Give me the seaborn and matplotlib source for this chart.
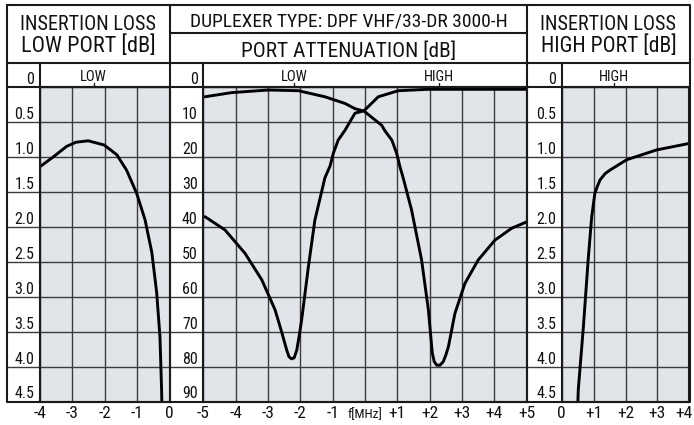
import matplotlib
matplotlib.use("Agg")
import matplotlib.pyplot as plt
import matplotlib.transforms as mtransforms
from matplotlib import font_manager
from matplotlib.lines import Line2D
import seaborn as sns

# ---- insertion loss, low port (left panel) ----
low_il_mhz = [-4.0, -3.59, -3.18, -2.89, -2.51, -2.02, -1.63, -1.33, -1.02,
              -0.76, -0.55, -0.40, -0.30, -0.25, -0.24]
low_il_db = [1.14, 1.00, 0.85, 0.79, 0.77, 0.83, 0.97, 1.19, 1.52,
             1.90, 2.37, 2.95, 3.58, 4.33, 4.60]

# ---- insertion loss, high port (right panel) ----
high_il_mhz = [0.50, 0.52, 0.68, 0.83, 0.94, 1.04, 1.12, 1.20, 1.36, 1.51,
               2.04, 2.98, 3.97]
high_il_db = [4.60, 4.33, 3.43, 2.47, 1.86, 1.52, 1.42, 1.33, 1.24, 1.19,
              1.04, 0.90, 0.81]

# ---- port attenuation (middle panel) ----
att_low_mhz = [-4.95, -4.12, -2.99, -2.06, -1.24, -0.62, -0.31, -0.03, 0.52,
               0.62, 0.83, 0.98, 1.08, 1.18, 1.44, 1.75, 1.96, 2.08, 2.14,
               2.22, 2.32, 2.42, 2.50, 2.58, 2.78, 3.09, 3.50, 4.02, 4.54, 5.0]
att_low_db = [2.8, 1.6, 0.86, 1.06, 2.8, 4.7, 6.2, 6.9, 11.0,
              12.6, 15.2, 19.0, 22.8, 26.0, 35.2, 49.5, 63.8, 76.1, 78.6,
              79.6, 79.6, 78.6, 76.7, 74.3, 64.8, 56.2, 49.5, 43.8, 40.4, 38.6]

att_high_mhz = [-4.95, -4.33, -3.71, -3.19, -2.78, -2.58, -2.42, -2.35, -2.27,
                -2.19, -2.11, -2.04, -1.96, -1.75, -1.55, -1.24, -1.08, -0.98,
                -0.83, -0.62, -0.31, -0.03, 0.41, 1.03, 1.96, 5.0]
att_high_db = [37.1, 40.9, 47.6, 55.2, 63.8, 70.0, 75.3, 77.2, 77.8,
               77.5, 75.3, 71.5, 66.7, 51.4, 38.1, 26.0, 22.6, 19.0,
               15.2, 12.4, 7.5, 6.8, 2.8, 1.06, 0.66, 0.66]

il_ticks = [0, 0.5, 1.0, 1.5, 2.0, 2.5, 3.0, 3.5, 4.0, 4.5]
il_labels = ["0", "0.5", "1.0", "1.5", "2.0", "2.5", "3.0", "3.5", "4.0", "4.5"]
att_ticks = [0, 10, 20, 30, 40, 50, 60, 70, 80, 90]
att_labels = ["0", "10", "20", "30", "40", "50", "60", "70", "80", "90"]

left_x = [-4, -3, -2, -1, 0]
left_xlabels = ["-4", "-3", "-2", "-1", "0"]
mid_x = [-5, -4, -3, -2, -1, 0, 1, 2, 3, 4, 5]
mid_xlabels = ["-5", "-4", "-3", "-2", "-1", "f[MHz]", "+1", "+2", "+3", "+4", "+5"]
right_x = [0, 1, 2, 3, 4]
right_xlabels = ["0", "+1", "+2", "+3", "+4"]

sns.set_theme(style="white")
nomes = {f.name for f in font_manager.fontManager.ttflist}
fonte = "Liberation Sans"
for cand in ["Liberation Sans Narrow", "Roboto Condensed", "Open Sans Condensed",
             "Noto Sans Condensed", "DejaVu Sans Condensed"]:
    if cand in nomes:
        fonte = cand
        break
plt.rcParams["font.family"] = [fonte, "DejaVu Sans"]

W, H = 694, 425
TOPO, BASE = 87, 401.5
fundo = "#e1e5ea"
grade = "#3c3c3c"

fig = plt.figure(figsize=(W / 100, H / 100), dpi=100)


def caixa(x0, x1):
    return [x0 / W, (H - BASE) / H, (x1 - x0) / W, (BASE - TOPO) / H]


ax_l = fig.add_axes(caixa(40, 169.7))
ax_m = fig.add_axes(caixa(203.3, 526.7))
ax_r = fig.add_axes(caixa(561.7, 689.3))

kw = dict(color="black", lw=2.1, estimator=None, sort=False)
sns.lineplot(x=low_il_mhz, y=low_il_db, ax=ax_l, **kw)
sns.lineplot(x=att_low_mhz, y=att_low_db, ax=ax_m, **kw)
sns.lineplot(x=att_high_mhz, y=att_high_db, ax=ax_m, **kw)
sns.lineplot(x=high_il_mhz, y=high_il_db, ax=ax_r, **kw)


def painel(ax, xlim, xt, xl, yt, yl, col_px, marca, marca_x):
    ax.set_facecolor(fundo)
    ax.set_xlim(xlim)
    ax.set_ylim(yt[-1], yt[0])
    ax.set_xlabel("")
    ax.set_ylabel("")
    ax.set_xticks(xt, xl, fontsize=12.5, color="#111111")
    ax.set_yticks(yt, yl, fontsize=11.5, color="#111111")
    ax.tick_params(axis="x", length=0, pad=3.5)
    ax.tick_params(axis="y", length=0, pad=4)
    ax.grid(True, color=grade, lw=1.0)
    ax.set_axisbelow(True)
    for s in ax.spines.values():
        s.set_color("#1a1a1a")
        s.set_linewidth(1.5)
    desloc = mtransforms.ScaledTranslation(0, 0.03, fig.dpi_scale_trans)
    for lab in ax.get_yticklabels():
        lab.set_va("baseline")
        lab.set_transform(lab.get_transform() + desloc)
    largura = ax.get_position().width * W
    for v in yt[1:-1]:
        ax.axhline(v, xmin=-col_px / largura, xmax=0, color=grade, lw=1.0,
                   clip_on=False)
    for txt, xm in zip(marca, marca_x):
        ax.annotate(txt, xy=(xm, yt[0]), xytext=(0, 10), textcoords="offset pixels",
                    ha="center", va="center", fontsize=10.5, color="#111111",
                    annotation_clip=False)
        ax.plot([xm, xm], [1.0, 1.012], transform=ax.get_xaxis_transform(),
                color="#222222", lw=1.0, clip_on=False)


painel(ax_l, (-4, 0), left_x, left_xlabels, il_ticks, il_labels, 33, ["LOW"], [-2.35])
painel(ax_m, (-5, 5), mid_x, mid_xlabels, att_ticks, att_labels, 33.3,
       ["LOW", "HIGH"], [-2.2, 2.3])
painel(ax_r, (0, 4), right_x, right_xlabels, il_ticks, il_labels, 35, ["HIGH"], [1.65])

for lab in ax_m.get_xticklabels():
    if lab.get_text() == "f[MHz]":
        lab.set_fontsize(9.5)
        lab.set_transform(lab.get_transform() +
                          mtransforms.ScaledTranslation(0, -0.02, fig.dpi_scale_trans))
ultimo = ax_r.get_xticklabels()[-1]
ultimo.set_ha("right")
ultimo.set_transform(ultimo.get_transform() +
                     mtransforms.ScaledTranslation(0.03, 0, fig.dpi_scale_trans))


def linha(xs, ys, lw=1.5):
    fig.add_artist(Line2D([x / W for x in xs], [1 - y / H for y in ys],
                          color="#1a1a1a", lw=lw))


linha([7, 690, 690, 7, 7], [5, 5, BASE, BASE, 5])
linha([170, 170], [5, BASE])
linha([526.7, 526.7], [5, BASE])
linha([7, 690], [63, 63])
linha([170, 526.7], [33.3, 33.3])
linha([7, 690], [TOPO, TOPO])
for xc in (40, 203.3, 561.7):
    linha([xc, xc], [63, TOPO])

render = fig.canvas.get_renderer()


def texto(x, y, s, size, alvo):
    # scale the title so its width matches the reference box
    t = fig.text(x / W, 1 - y / H, s, ha="center", va="center", fontsize=size,
                 color="#111111")
    w = t.get_window_extent(render).width
    t.set_fontsize(min(size * alvo / w, size * 1.12))


texto(88.5, 25, "INSERTION LOSS", 14.5, 136)
texto(88.5, 46.5, "LOW PORT [dB]", 14.5, 134)
texto(348.5, 21.5, "DUPLEXER TYPE: DPF VHF/33-DR 3000-H", 12.5, 320)
texto(348.5, 51, "PORT ATTENUATION [dB]", 14.5, 215)
texto(608.5, 25, "INSERTION LOSS", 14.5, 136)
texto(608.5, 46.5, "HIGH PORT [dB]", 14.5, 136)

fig.savefig("out.png", dpi=100)
